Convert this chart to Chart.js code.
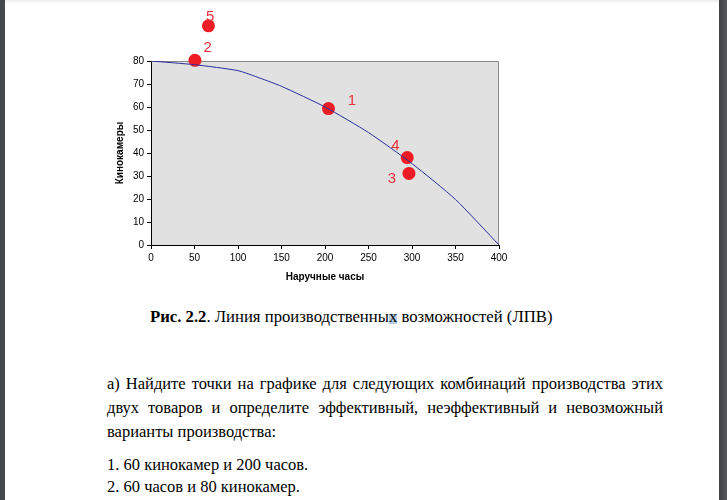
<!DOCTYPE html>
<html>
<head>
<meta charset="utf-8">
<script src="https://cdn.jsdelivr.net/npm/chart.js@4/dist/chart.umd.min.js"></script>
<style>
  body { margin: 0; background: #fff; }
  .page { position: relative; width: 727px; height: 500px; overflow: hidden; background: #fff; }
  .edge-left { position: absolute; left: 0; top: 0; width: 5px; height: 500px; background: #44474c; }
  .edge-right { position: absolute; right: 0; top: 0; width: 8px; height: 500px; background: linear-gradient(to right, #3f4247, #55585d); }
  .edge-top { position: absolute; left: 0; top: 0; width: 727px; height: 4px; background: linear-gradient(#ececec, #fff); }
  .chart-box { position: absolute; left: 0; top: 0; width: 727px; height: 300px; }
  .caption { position: absolute; left: 150px; top: 307px; font: 16.7px "Liberation Serif", serif; color: #000; white-space: nowrap; }
  .caption b { font-weight: bold; }
  .sel { background: linear-gradient(transparent 35%, #b3cde6 35%, #b3cde6 92%, transparent 92%); }
  .text { position: absolute; left: 107px; top: 372px; width: 556px; font: 16.5px "Liberation Serif", serif; color: #000; }
  .text .j { text-align: justify; text-align-last: justify; height: 24px; line-height: 24px; }
  .text .l { height: 24px; line-height: 24px; }
  .text .li { height: 22px; line-height: 22px; }
</style>
</head>
<body>
<div class="page">
  <div class="chart-box"><canvas id="ppf"></canvas></div>
  <div class="caption"><b>Рис. 2.2</b>. Линия производственны<span class="sel">х</span> возможностей (ЛПВ)</div>
  <div class="text">
    <div class="j">а) Найдите точки на графике для следующих комбинаций производства этих</div>
    <div class="j">двух товаров и определите эффективный, неэффективный и невозможный</div>
    <div class="l">варианты производства:</div>
    <div class="li" style="margin-top:10px">1. 60 кинокамер и 200 часов.</div>
    <div class="li">2. 60 часов и 80 кинокамер.</div>
  </div>
  <div class="edge-top"></div>
  <div class="edge-left"></div>
  <div class="edge-right"></div>
</div>
<script>
// production possibilities curve
const watches = [0, 50, 100, 125, 150, 200, 250, 300, 350, 400];
const cameras = [80, 78.4, 75.8, 72.6, 69, 60, 48.9, 35.4, 19.8, 0];

// numbered points
const pointNames = ["1", "2", "3", "4", "5"];
const pointX = [204, 50.5, 296.5, 294.5, 66];
const pointY = [59.3, 80.3, 31.1, 38, 95.3];
const labelX = [231, 65, 277, 281, 68];
const labelY = [62.6, 85.8, 28.6, 43, 99.4];

const xTicks = [0, 50, 100, 150, 200, 250, 300, 350, 400];
const yTicks = [0, 10, 20, 30, 40, 50, 60, 70, 80];

const plotBg = {
  id: "plotBg",
  beforeDraw(chart) {
    const { ctx, chartArea: a } = chart;
    ctx.save();
    ctx.fillStyle = "#e1e1e1";
    ctx.fillRect(a.left, a.top, a.right - a.left, a.bottom - a.top);
    ctx.strokeStyle = "#8a8a8a";
    ctx.lineWidth = 1;
    ctx.beginPath();
    ctx.moveTo(a.left, a.top + 0.5);
    ctx.lineTo(a.right - 0.5, a.top + 0.5);
    ctx.lineTo(a.right - 0.5, a.bottom);
    ctx.stroke();
    ctx.restore();
  }
};

// points above the axis range (point 5) are skipped by Chart.js, draw them with the whole canvas as area
const pointLabels = {
  id: "pointLabels",
  afterDatasetsDraw(chart) {
    const { ctx, scales, chartArea: a } = chart;
    const whole = { left: 0, top: 0, right: chart.width, bottom: chart.height };
    chart.getDatasetMeta(1).data.forEach(el => {
      if (el.y < a.top - 4) el.draw(ctx, whole);
    });
    ctx.save();
    ctx.fillStyle = "#e8323a";
    ctx.font = "15px 'Liberation Sans', sans-serif";
    ctx.textAlign = "center";
    ctx.textBaseline = "middle";
    pointNames.forEach((n, i) => {
      ctx.fillText(n, scales.x.getPixelForValue(labelX[i]), scales.y.getPixelForValue(labelY[i]));
    });
    ctx.restore();
  }
};

const tickFont = { family: "'Liberation Sans', Arial, sans-serif", size: 10 };
const titleFont = { family: "'Liberation Sans', Arial, sans-serif", size: 10, weight: "bold" };

new Chart(document.getElementById("ppf"), {
  type: "scatter",
  data: {
    datasets: [
      {
        data: watches.map((w, i) => ({ x: w, y: cameras[i] })),
        showLine: true,
        borderColor: "#2b2f9c",
        borderWidth: 1,
        pointRadius: 0,
        tension: 0.2
      },
      {
        data: pointX.map((x, i) => ({ x: x, y: pointY[i] })),
        backgroundColor: "#ee1c24",
        borderWidth: 0,
        pointRadius: 6.5,
        clip: false
      }
    ]
  },
  options: {
    responsive: true,
    maintainAspectRatio: false,
    animation: false,
    layout: { padding: { left: 110, top: 61, right: 228, bottom: 13 } },
    plugins: { legend: { display: false }, tooltip: { enabled: false } },
    scales: {
      x: {
        type: "linear", min: 0, max: 400,
        afterFit(s) { s.height = 42; },
        afterBuildTicks(s) { s.ticks = xTicks.map(v => ({ value: v })); },
        grid: { drawOnChartArea: false, tickLength: 4, tickColor: "#000" },
        border: { color: "#000" },
        ticks: { color: "#000", font: tickFont, padding: 3, maxRotation: 0 },
        title: { display: true, text: "Наручные часы", color: "#000", font: titleFont }
      },
      y: {
        min: 0, max: 80,
        afterFit(s) { s.width = 41; },
        afterBuildTicks(s) { s.ticks = yTicks.map(v => ({ value: v })); },
        grid: { drawOnChartArea: false, tickLength: 4, tickColor: "#000" },
        border: { color: "#000" },
        ticks: { color: "#000", font: tickFont, padding: 3 },
        title: { display: true, text: "Кинокамеры", color: "#000", font: titleFont }
      }
    }
  },
  plugins: [plotBg, pointLabels]
});
</script>
</body>
</html>
